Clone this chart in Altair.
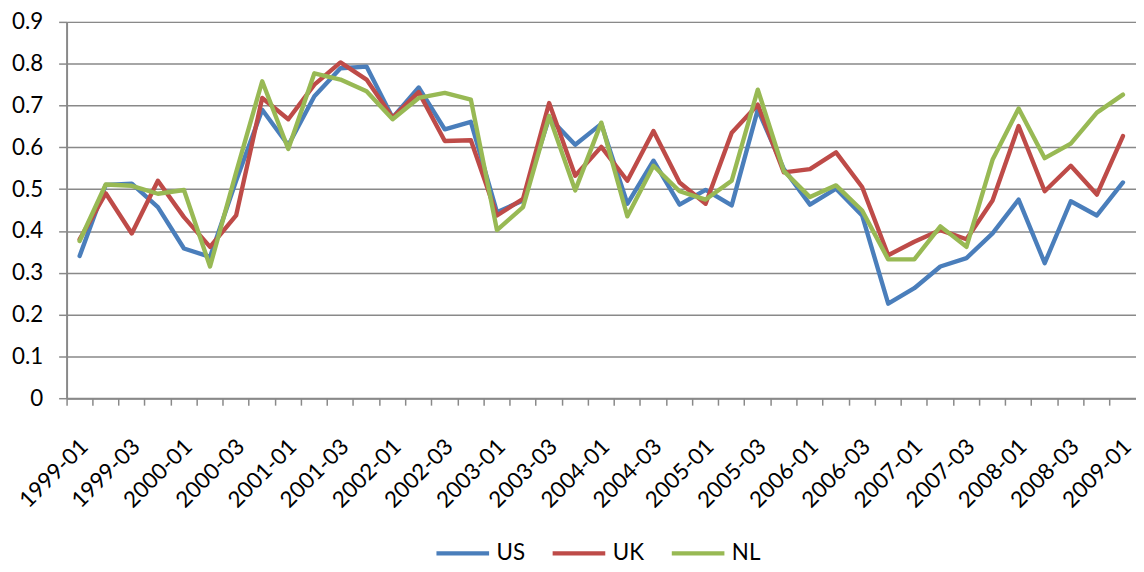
import altair as alt
import pandas as pd

quarters = [
    "1999-01", "1999-02", "1999-03", "1999-04",
    "2000-01", "2000-02", "2000-03", "2000-04",
    "2001-01", "2001-02", "2001-03", "2001-04",
    "2002-01", "2002-02", "2002-03", "2002-04",
    "2003-01", "2003-02", "2003-03", "2003-04",
    "2004-01", "2004-02", "2004-03", "2004-04",
    "2005-01", "2005-02", "2005-03", "2005-04",
    "2006-01", "2006-02", "2006-03", "2006-04",
    "2007-01", "2007-02", "2007-03", "2007-04",
    "2008-01", "2008-02", "2008-03", "2008-04",
    "2009-01",
]

us = [0.340, 0.510, 0.513, 0.457, 0.358, 0.338, 0.520, 0.690, 0.605, 0.722,
      0.789, 0.793, 0.671, 0.743, 0.643, 0.661, 0.445, 0.473, 0.671, 0.606,
      0.656, 0.465, 0.568, 0.463, 0.498, 0.461, 0.690, 0.548, 0.463, 0.501,
      0.437, 0.226, 0.263, 0.315, 0.335, 0.394, 0.475, 0.323, 0.471, 0.437,
      0.516]
uk = [0.380, 0.490, 0.394, 0.520, 0.433, 0.362, 0.437, 0.718, 0.667, 0.750,
      0.803, 0.762, 0.671, 0.732, 0.615, 0.617, 0.437, 0.477, 0.706, 0.532,
      0.601, 0.520, 0.639, 0.516, 0.465, 0.635, 0.702, 0.540, 0.548, 0.588,
      0.505, 0.342, 0.374, 0.402, 0.380, 0.473, 0.651, 0.495, 0.556, 0.487,
      0.627]
nl = [0.376, 0.511, 0.508, 0.489, 0.498, 0.315, 0.540, 0.758, 0.596, 0.777,
      0.762, 0.734, 0.667, 0.718, 0.730, 0.714, 0.402, 0.457, 0.675, 0.497,
      0.659, 0.435, 0.556, 0.495, 0.475, 0.520, 0.738, 0.543, 0.481, 0.509,
      0.449, 0.332, 0.332, 0.411, 0.362, 0.570, 0.693, 0.574, 0.609, 0.683,
      0.726]

series_names = ["US", "UK", "NL"]
series_colors = ["#4A7EBB", "#BE4B48", "#98B954"]
y_ticks = [0, 0.1, 0.2, 0.3, 0.4, 0.5, 0.6, 0.7, 0.8, 0.9]

rows = []
for name, vals in zip(series_names, [us, uk, nl]):
    for q, v in zip(quarters, vals):
        rows.append({"quarter": q, "value": v, "series": name})
df = pd.DataFrame(rows)

FONT = "Lato"
FS = 22.5
GRID = "#898989"

chart = alt.Chart(df).mark_line(
    strokeWidth=4.4, strokeCap="round", strokeJoin="round"
).encode(
    x=alt.X(
        "quarter:N",
        sort=quarters,
        bandPosition=0.5,
        scale=alt.Scale(type="band", paddingInner=0, paddingOuter=0),
        axis=alt.Axis(
            title=None,
            bandPosition=0,
            labelAngle=-45,
            labelAlign="right",
            labelBaseline="top",
            labelOffset=-3,
            labelPadding=30,
            labelOverlap=False,
            labelExpr="(substring(datum.value,5,7)=='01' || substring(datum.value,5,7)=='03') ? datum.value : ''",
            labelFont=FONT,
            labelFontSize=FS,
            labelColor="#000000",
            tickColor=GRID,
            tickSize=7,
            tickWidth=1.5,
            domainColor=GRID,
            domainWidth=2,
            grid=False,
        ),
    ),
    y=alt.Y(
        "value:Q",
        scale=alt.Scale(domain=[0, 0.9], nice=False, zero=True),
        axis=alt.Axis(
            title=None,
            values=y_ticks,
            format=".1~f",
            labelFont=FONT,
            labelFontSize=FS,
            labelColor="#000000",
            labelPadding=16,
            tickColor=GRID,
            tickSize=8,
            tickWidth=1.5,
            domainColor=GRID,
            domainWidth=2,
            grid=True,
            gridColor=GRID,
            gridWidth=1.5,
        ),
    ),
    color=alt.Color(
        "series:N",
        sort=series_names,
        scale=alt.Scale(domain=series_names, range=series_colors),
        legend=alt.Legend(
            title=None,
            orient="none",
            direction="horizontal",
            legendX=370,
            legendY=506,
            symbolType="stroke",
            symbolSize=2809,
            symbolStrokeWidth=4.4,
            labelFont=FONT,
            labelFontSize=FS,
            labelColor="#000000",
            labelOffset=5,
            columnPadding=18,
            padding=0,
        ),
    ),
    order=alt.Order("series:N"),
).properties(
    width=1077,
    height=379,
    autosize=alt.AutoSizeParams(type="none"),
    padding={"left": 59, "top": 12, "right": 0, "bottom": 165},
).configure_view(stroke=None).configure(background="white")

chart.save("out.html", embed_options={"renderer": "svg", "actions": False})
